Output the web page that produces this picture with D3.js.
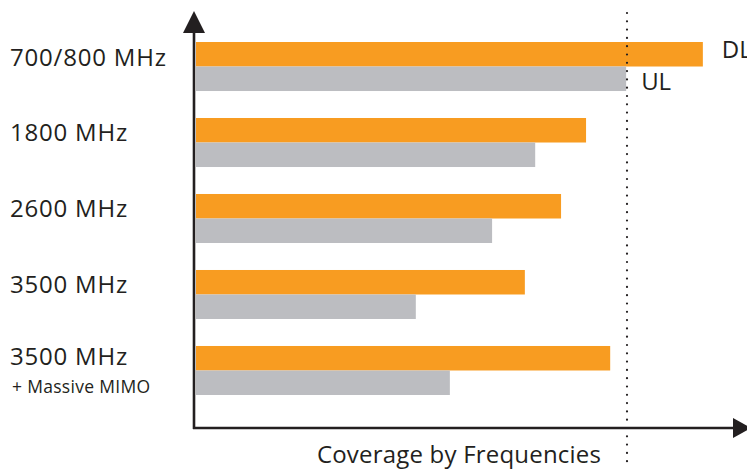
<!DOCTYPE html>
<html>
<head>
<meta charset="utf-8">
<script src="https://cdn.jsdelivr.net/npm/d3@7"></script>
<style>
  body { margin: 0; background: #fff; }
  text { font-family: "Open Sans", "Noto Sans", sans-serif; fill: #231f20; }
</style>
</head>
<body>
<div id="chart"></div>
<script>
// bands, top to bottom
const categories = ["700/800 MHz", "1800 MHz", "2600 MHz", "3500 MHz", "3500 MHz"]
const subLabels = ["", "", "", "", "+ Massive MIMO"]
const series = ["DL", "UL"]
// relative coverage, 1 = dotted reference line
const dlValues = [1.176, 0.905, 0.847, 0.763, 0.961]
const ulValues = [0.998, 0.787, 0.687, 0.510, 0.589]
const xTitle = "Coverage by Frequencies"
const refValue = 1

const width = 747, height = 469
const colors = { DL: "#f89c21", UL: "#bcbdc1" }

const svg = d3.select("#chart").append("svg")
   .attr("width", width)
   .attr("height", height)

const x = d3.scaleLinear().domain([0, 1]).range([196, 627])

const y = d3.scaleBand()
   .domain(d3.range(categories.length))
   .range([42, 395])
   .paddingInner(0.355)
   .paddingOuter(0)

const ySub = d3.scaleBand().domain(series).range([0, y.bandwidth()])

const rows = categories.map((c, i) => ({ i, name: c, sub: subLabels[i], DL: dlValues[i], UL: ulValues[i] }))

// bars
const g = svg.append("g")
const groups = g.selectAll(".grp")
   .data(rows)
   .enter().append("g")
   .attr("class", "grp")
   .attr("transform", d => `translate(0,${y(d.i)})`)

groups.selectAll("rect")
   .data(d => series.map(s => ({ s, v: d[s] })))
   .enter().append("rect")
   .attr("x", x(0))
   .attr("y", d => ySub(d.s))
   .attr("width", d => x(d.v) - x(0))
   .attr("height", ySub.bandwidth())
   .attr("fill", d => colors[d.s])

// category labels
groups.append("text")
   .attr("x", 10)
   .attr("y", d => d.sub ? 19 : 23.5)
   .attr("font-size", 24)
   .attr("letter-spacing", 0.8)
   .text(d => d.name)

groups.filter(d => d.sub).append("text")
   .attr("x", 12)
   .attr("y", 47)
   .attr("font-size", 17.5)
   .attr("letter-spacing", 0.3)
   .text(d => d.sub)

// series labels on the first band
svg.append("text")
   .attr("x", x(dlValues[0]) + 19)
   .attr("y", y(0) + ySub("DL") + 16)
   .attr("font-size", 24)
   .text("DL")
svg.append("text")
   .attr("x", x(ulValues[0]) + 15)
   .attr("y", y(0) + ySub("UL") + 23)
   .attr("font-size", 24)
   .text("UL")

// dotted reference line
svg.append("line")
   .attr("x1", x(refValue)).attr("x2", x(refValue))
   .attr("y1", 13).attr("y2", height)
   .attr("stroke", "#231f20")
   .attr("stroke-width", 2.2)
   .attr("stroke-linecap", "round")
   .attr("stroke-dasharray", "0 8.3")

// axes
const axisY = 428, axisX = 194
svg.append("line")
   .attr("x1", axisX).attr("x2", axisX)
   .attr("y1", 30).attr("y2", axisY + 1)
   .attr("stroke", "#231f20").attr("stroke-width", 2.6)
svg.append("line")
   .attr("x1", axisX - 1).attr("x2", width - 8)
   .attr("y1", axisY).attr("y2", axisY)
   .attr("stroke", "#231f20").attr("stroke-width", 2.6)

svg.append("path")
   .attr("d", `M${axisX},11 L${axisX - 11},33 L${axisX + 11},33 Z`)
   .attr("fill", "#231f20")
svg.append("path")
   .attr("d", `M${width + 4},${axisY} L${width - 14},${axisY - 10} L${width - 14},${axisY + 10} Z`)
   .attr("fill", "#231f20")

svg.append("text")
   .attr("x", 459)
   .attr("y", 463)
   .attr("text-anchor", "middle")
   .attr("font-size", 24)
   .attr("letter-spacing", 0.2)
   .text(xTitle)
</script>
</body>
</html>
